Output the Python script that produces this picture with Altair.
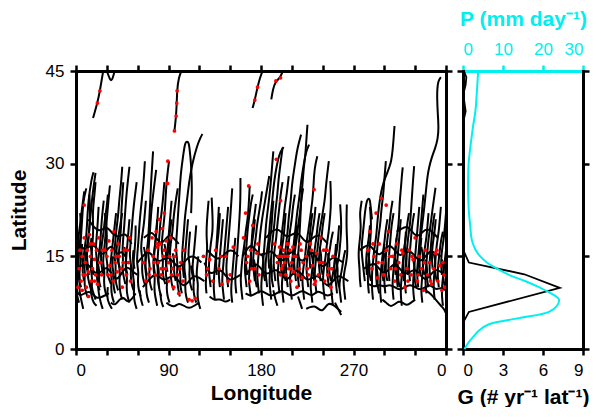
import altair as alt
import pandas as pd

# ---------------- data ----------------
# storm tracks: flat [lon, lat, lon, lat, ...] lists
TRACKS = [
    # high-latitude fragments
    [16.6, 37.4, 20.8, 39.8, 23.3, 41.8, 25.6, 44.2, 27, 45.5],
    [28.7, 45.5, 30.5, 44.8, 33, 43.6, 35.1, 43.3, 38.3, 45.5],
    [95.8, 35.3, 97.4, 37.7, 98, 39.8, 98.4, 41.8, 99.7, 43.9, 103.8, 45.5],
    [171.8, 39, 174, 40.3, 176.6, 42.4, 178.9, 43.9, 182.7, 45.5],
    [190, 40.4, 191.6, 42, 193.9, 43.3, 199, 43.9, 202.2, 45.5],
    # 0-60E
    [3, 7.5, 1, 8.5, 0.5, 10, 2, 11.5, 1, 13, 2, 15, 4, 17, 5, 20, 4, 22],
    [7, 6.5, 5, 8, 3, 9.5, 4, 11, 3, 12.5, 5, 14, 4, 16, 5, 18.5, 6, 21, 7, 24, 10, 26],
    [11, 8.5, 9, 9.5, 8, 11, 9, 12.5, 7, 14, 8, 16, 10, 18, 11, 21, 12, 24, 15, 27.5, 17, 28.6],
    [15, 9.5, 13, 10.5, 11, 12, 12, 13.5, 10, 15, 12, 17, 13, 20, 15, 23, 16, 25, 19, 28.5],
    [19, 8, 17, 9, 15, 10, 16, 11.5, 14, 13, 15, 15, 16, 17, 17, 19, 16, 22, 18, 25, 19, 27],
    [23, 9.5, 21, 10.5, 20, 12, 21, 13.5, 19, 16, 20, 18, 21, 20, 22, 23],
    [26, 6.5, 24, 7.5, 22, 9, 21, 11, 22, 12.5, 21, 14, 23, 16, 24, 18, 25, 21, 27, 24],
    [30, 8.5, 28, 9.5, 27, 11, 28, 12.5, 26, 14, 27, 15.5, 28, 17, 29, 19, 30, 21, 31, 23, 33, 26.5],
    [34, 10.5, 32, 11.5, 30, 12, 31, 13.5, 29, 15, 30, 17, 30, 19, 29, 21, 28, 22],
    [37, 7.5, 35, 8.5, 34, 10, 35, 11.5, 33, 13, 34, 14.5, 35, 16, 36, 17.5, 37, 19, 39, 22],
    [41, 9.5, 39, 10.5, 38, 12, 39, 13.5, 37, 15, 38, 17, 39, 19, 41, 21.5, 42, 24, 44, 27, 45, 29.5],
    [45, 8, 43, 9, 42, 11, 43, 12.5, 41, 14, 42, 16, 43, 18, 44, 20, 44, 22, 45, 24.5, 46, 27],
    [48, 10.5, 46, 12, 45, 13, 46, 14.5, 45, 16, 46, 18, 47, 20, 48, 22.5, 49, 25, 52, 29.5],
    [52, 7.5, 50, 8.5, 49, 10, 50, 11.5, 48, 13, 49, 15, 50, 17, 51, 19, 52, 21],
    [56, 9.5, 54, 10.5, 53, 12, 54, 13.5, 52, 15, 53, 17, 54, 19, 55, 21, 56, 23, 59, 27],
    [59, 6.5, 57, 7.5, 56, 9, 57, 10.5, 55, 12, 56, 14, 57, 16, 58, 18, 58, 20],
    [13, 12, 10, 13, 9, 15, 11, 17, 13, 19, 14, 22, 13, 25],
    [27, 12, 25, 13, 24, 15, 25, 17, 27, 19, 28, 21, 30, 23, 31, 25],
    [43, 13, 40, 14.5, 39, 16, 41, 18, 43, 20, 45, 22],
    [5, 10, 3, 11, 2, 13, 3, 15.5, 2, 18, 4, 20, 6, 23, 8, 25.5],
    [20, 7, 17, 7.5, 15, 8.5, 14, 10, 15, 11],
    [35, 6.5, 32, 7.3, 30, 8.5, 31, 10],
    [8, 11, 6, 12.5, 7, 14, 5, 15.5, 6, 17],
    [17, 12, 15, 13.5, 16, 15, 14, 16.5, 15, 18],
    [24, 10, 22, 11, 23, 12.5, 21, 14],
    [38, 9, 36, 10.5, 37, 12, 35, 13.5, 36, 15],
    [50, 12, 48, 13.5, 49, 15, 47, 16.5],
    [57, 13, 55, 14.5, 56, 16],
    [60, 12, 55, 12.5, 50, 13.5, 45, 12.5, 40, 11, 35, 12, 30, 13.5, 25, 12.5, 20, 12, 15, 13, 10, 14, 5, 13.5, 1, 13],
    [48, 15, 44, 16, 40, 15, 35, 17, 30, 16, 25, 15, 20, 16.5, 15, 17, 10, 16, 5, 16.5],
    [32, 9, 26, 8.5, 20, 8, 14, 9.5, 8, 9, 4, 8.5, 0, 9.5],
    [54, 17, 48, 19, 42, 18, 36, 18.5, 30, 20, 24, 19, 18, 19.5, 12, 21],
    [58, 9, 54, 8, 50, 7.5, 46, 8.5, 42, 8, 38, 7, 34, 7.5],
    # 60-125E
    [63, 8.5, 61, 9.5, 60, 11, 61, 12.5, 59, 14, 60, 16, 61, 18, 62, 21, 64, 24, 66, 27.5, 67, 30.4],
    [67, 10.5, 65, 11.5, 64, 13, 65, 14.5, 63, 16, 64, 18, 66, 20, 67, 22, 68, 24],
    [71, 7.5, 69, 8.5, 68, 10, 69, 11.5, 67, 13, 68, 15, 70, 17, 71, 20, 72, 23, 73, 27, 75, 32],
    [74, 9.5, 72, 10.5, 71, 12, 72, 13.5, 70, 15, 71, 17, 72, 19, 73, 22, 75, 25, 78, 29],
    [79, 7, 77, 8.5, 76, 10, 77, 11.5, 75, 13, 76, 15, 77, 17, 78, 19, 79, 21],
    [83, 8.5, 81, 9.5, 80, 11, 81, 12.5, 79, 14, 80, 16, 81, 18, 82, 20.5, 84, 23, 86, 27],
    [87, 10.5, 85, 11.5, 84, 13, 85, 14.5, 83, 16, 84, 18.5, 86, 21, 87, 24, 88, 27, 90.5, 30.4],
    [91, 7.5, 89, 8.5, 88, 10, 89, 11, 87, 12, 88, 14, 89, 16, 90, 18, 91, 20, 93, 24],
    [95, 9.5, 93, 10.5, 92, 12, 93, 13.5, 91, 15, 92, 17, 94, 19, 95, 21.5, 97, 24, 99, 26],
    [101, 8.5, 99, 10, 98, 12, 99, 14, 97, 16, 98, 18.5, 99, 21, 100, 23.5, 101, 26, 102, 28.5, 104, 31, 106, 33.4,
     108, 33.6, 110, 33.4, 111, 31.5, 112, 30, 113, 26, 112, 22],
    [105, 11.5, 104, 13, 103, 15, 104, 17, 105, 19, 106, 21.5, 108, 24, 110, 27, 113, 30, 118, 33, 121, 34.2, 123, 34.8],
    [109, 7.5, 107, 8.5, 106, 10, 107, 11.5, 105, 13, 106, 15, 107, 17, 108, 19, 109, 21],
    [113, 9.5, 111, 10.5, 110, 12, 111, 13.5, 109, 15, 110, 17, 111, 19],
    [117, 7.5, 115, 8.5, 114, 10, 115, 11.5, 113, 13, 114, 14.5, 115, 16, 116, 18, 117, 20],
    [121, 6.5, 119, 7.5, 118, 9, 119, 10.5, 117, 12, 118, 13.5, 119, 15],
    [77, 12, 75, 14, 76, 16, 78, 18, 79, 20.5, 80, 23],
    [93, 13, 91, 14.5, 90, 16.5, 91, 18.5, 93, 21],
    [65, 7, 63, 8, 62, 9.5],
    [85, 6.8, 83, 7.5, 82, 9],
    [69, 12, 67, 13.5, 68, 15, 66, 16.5],
    [81, 10, 79, 11.5, 80, 13, 78, 14.5],
    [89, 12.5, 87, 14, 88, 15.5, 86, 17],
    [97, 11, 95, 12.5, 96, 14, 94, 15.5],
    [103, 9, 101, 10.5, 102, 12, 100, 13.5],
    [115, 11, 113, 12, 112, 13.5],
    [125, 11, 120, 11.5, 115, 12, 110, 11, 105, 10, 100, 11, 95, 12, 90, 11.5, 85, 11, 80, 12, 75, 12, 70, 11, 65, 10],
    [122, 14, 116, 15, 110, 15, 105, 14, 100, 13, 95, 14, 90, 15, 85, 14.5, 80, 14, 75, 15, 70, 16, 65, 15, 60, 14],
    [120, 7.5, 115, 7, 110, 6.5, 105, 7, 100, 7.5, 96, 6.8, 92, 7, 88, 7.5],
    [100, 17, 95, 18, 90, 18.5, 86, 17.5, 82, 17, 78, 18, 74, 19, 70, 18.5, 66, 18],
    # 125-160E
    [127, 9, 126, 10.5, 127, 12, 126, 14, 128, 16, 127, 18, 127, 20, 129, 24],
    [131, 10, 130, 11.5, 129, 13, 130, 15, 131, 17, 133, 19, 133, 21, 132, 24.5],
    [135, 8, 134, 9.5, 134, 11, 135, 13, 136, 15, 137, 17.5, 138, 20, 139, 23],
    [140, 10, 139, 11.5, 139, 13, 140, 15, 141, 17, 142, 19, 143, 21],
    [144, 8, 143, 9.5, 142, 11, 143, 13, 144, 15, 145, 17, 146, 19, 147, 21, 148, 23],
    [148, 10, 147, 11.5, 146, 13, 147, 15, 148, 17, 149, 19, 150, 21, 151, 23.5, 152, 26],
    [152, 7.5, 151, 9, 151, 10, 152, 12, 153, 14, 154, 16, 155, 18],
    [156, 9, 155, 10.5, 155, 12, 156, 14, 157, 16, 158, 18.5, 159, 21, 160, 24, 160, 27.7],
    [137, 12, 136, 14, 137, 16.5, 139, 19, 140, 22],
    [160, 12, 155, 11.5, 150, 11, 145, 12, 140, 13, 135, 12.5, 130, 12, 125, 14],
    [158, 15, 153, 16, 148, 16, 143, 15, 138, 14.5, 133, 15, 128, 16],
    [150, 8, 145, 7.5, 140, 8.2, 135, 7.8, 130, 8.5],
    # 160-265E
    [162, 8, 161, 9.5, 160, 11, 161, 13, 162, 15, 164, 17, 165, 19, 167, 21, 168, 23, 169, 26.4],
    [166, 10, 165, 11.5, 164, 13, 165, 15, 166, 17, 167, 19.5, 169, 22, 170, 23.5, 172, 25],
    [170, 8.5, 169, 10, 168, 11, 169, 13, 170, 15, 171, 17.5, 172, 20, 174, 22, 175, 23.5],
    [174, 11, 173, 12.5, 172, 14, 173, 16, 175, 18, 176, 20, 178, 22, 180, 24, 181, 25.5],
    [178, 9, 177, 10.5, 176, 12, 177, 14, 178, 16, 179, 18.5, 181, 21, 183, 23, 185, 25, 188, 28],
    [182, 7, 181, 8.5, 180, 10, 181, 12, 182, 14, 183, 16, 184, 18, 185, 20.5, 187, 23, 189, 26, 190, 28, 192, 32],
    [186, 10, 185, 11.5, 184, 13, 185, 15, 187, 17, 188, 19, 189, 21, 191, 24, 192, 26, 194, 28.5, 196.5, 30.7,
     199, 32, 202, 32.7],
    [190, 8, 189, 9.5, 188, 11, 189, 13, 190, 15, 191, 17.5, 193, 20, 194, 22.5, 196, 25, 197, 27.5, 199, 30, 201, 32.6],
    [194, 11, 193, 12.5, 192, 14, 193, 16, 195, 18, 196, 20.5, 198, 23, 199, 25, 201, 27],
    [198, 9, 197, 10.5, 196, 12, 197, 14, 199, 16, 200, 18.5, 202, 21, 203, 23, 205, 25, 207, 28],
    [202, 7.5, 201, 9, 200, 10, 201, 12, 203, 14, 204, 16.5, 206, 19, 207, 21.5, 209, 24, 210, 26.5, 212, 28.8,
     214, 31, 215.6, 32.6, 219, 34.7],
    [206, 10, 205, 11.5, 204, 13, 205, 15, 207, 17, 208, 19, 210, 21, 211, 23, 213, 25],
    [210, 8, 209, 9.5, 208, 11, 209, 13, 211, 15, 212, 17.5, 214, 20, 215, 22, 217, 24, 219, 27.2, 222, 30.4,
     224, 32, 226.8, 33.1],
    [214, 11, 213, 12.5, 212, 14, 213, 16, 215, 18, 216, 20, 218, 22, 219, 24, 221, 26],
    [217, 10, 216, 11.5, 215, 13, 216, 15, 217, 17, 218, 20, 219, 24, 220, 26, 221, 28, 222, 30, 223, 31, 224, 33.5,
     225.2, 36.3],
    [222, 8, 221, 9.5, 220, 11, 221, 13, 223, 15, 224, 17, 226, 19, 228, 21.5, 230, 24, 231, 26, 231.6, 28.3,
     233, 30, 234.8, 31.2],
    [226, 10, 225, 11.5, 224, 13, 225, 15, 227, 17, 228, 19.5, 230, 22],
    [230, 7.5, 229, 9, 228, 10, 229, 12, 231, 14, 232, 16, 234, 18, 235, 20, 237, 22],
    [234, 9, 233, 10.5, 232, 12, 233, 14, 235, 16, 236, 18, 238, 20, 240, 22, 242, 24, 243, 26, 244, 27.7, 246, 30.4],
    [238, 11, 237, 12.5, 236, 14, 237, 16, 239, 18, 240, 20, 242, 22],
    [242, 8, 241, 9.5, 240, 11, 241, 13, 243, 15, 244, 17, 246, 19, 247, 21, 248, 23, 248, 25, 247.5, 27.2],
    [246, 10, 245, 11.5, 244, 13, 245, 14.5, 247, 16, 248, 17.5, 250, 19],
    [250, 7, 249, 8.5, 248, 10, 249, 11.5, 251, 13, 252, 14.5, 254, 16, 255, 18, 256, 20],
    [254, 9, 253, 10.5, 252, 12, 254, 13.5, 256, 15, 257, 17, 258, 19, 258, 21, 257, 23.4],
    [258, 7.5, 257, 9, 256, 10, 257, 11.5, 259, 13, 260, 14.5, 262, 16],
    [262, 8, 261, 9.5, 260, 11, 261, 12.5, 263, 14, 264, 15.5, 264, 17, 263, 20, 263.5, 23.4],
    [171, 13, 170, 15, 171, 17, 173, 19, 174, 21],
    [188, 13, 187, 15, 188, 17, 190, 19, 191, 22, 192, 24],
    [200, 12, 199, 14, 200, 16, 202, 18, 203, 20, 204, 22],
    [212, 12, 211, 14, 212, 16, 214, 18, 215, 20],
    [228, 13, 227, 15, 228, 17, 230, 19, 232, 21, 233, 23],
    [252, 11, 251, 13, 252, 15, 253, 17],
    [196, 7, 194, 8, 192, 9.5],
    [220, 6.5, 218, 7.5, 216, 8.5],
    [258, 5.5, 255, 6.5, 252, 7.5],
    [167, 12, 165, 13.5, 166, 15, 164, 16.5],
    [176, 10, 174, 11.5, 175, 13, 173, 14.5],
    [184, 11, 182, 12.5, 183, 14, 181, 15.5],
    [192, 10, 190, 11.5, 191, 13, 189, 14.5],
    [204, 11, 202, 12.5, 203, 14, 201, 15.5],
    [208, 13, 206, 14.5, 207, 16, 205, 17.5],
    [219, 11, 217, 12.5, 218, 14, 216, 15.5],
    [232, 11, 230, 12.5, 231, 14, 229, 15.5],
    [240, 12, 238, 13.5, 239, 15, 237, 16.5],
    [248, 11, 246, 12.5, 247, 14, 245, 15.5],
    [256, 10, 254, 11.5, 255, 13, 253, 14.5],
    [265, 11, 260, 11.5, 255, 12, 250, 11, 245, 10, 240, 11, 235, 12, 230, 11.5, 225, 11, 220, 12, 215, 13, 210, 12,
     205, 11, 200, 12, 195, 13, 190, 12.5, 185, 12, 180, 13, 175, 14, 170, 13, 165, 12],
    [260, 14, 255, 14.5, 250, 15, 245, 14, 240, 13, 235, 14.5, 230, 16, 225, 15, 220, 14, 215, 15, 210, 16, 205, 15,
     200, 14, 195, 15, 190, 16, 185, 15.5, 180, 15, 175, 16, 170, 17, 166, 16, 162, 15],
    [258, 6, 255, 6.5, 250, 7.2, 245, 7.5, 240, 6, 236, 6.5, 232, 7, 228, 6.8, 224, 6.5],
    [245, 17, 240, 18, 235, 18.5, 230, 18, 225, 17, 220, 18, 215, 19, 210, 18.5, 205, 18, 200, 19, 195, 19.5,
     190, 19, 185, 18],
    [250, 9, 245, 8.5, 240, 9, 235, 9.5, 230, 8.5, 225, 9, 220, 9.5, 215, 9, 210, 8.5, 205, 9, 200, 9.5, 195, 9,
     190, 8.5, 185, 9, 180, 9.5, 175, 9, 170, 8.5, 165, 9],
    # 275-360E
    [277, 10, 276, 11.5, 276, 13, 275, 14.5, 275, 16, 276, 17.5, 277, 19, 277, 20.5, 276, 22, 278, 24],
    [281, 11, 280, 12.5, 279, 14, 278, 15.5, 278, 17, 279, 18.5, 280, 20, 281, 22, 283, 24.2, 285, 24.4, 286, 24.2,
     287, 22.5, 288, 21],
    [285, 9, 284, 10.5, 284, 12, 284, 13.5, 285, 15, 286, 17, 287, 19, 287, 21, 286, 23],
    [289, 8, 288, 9.5, 288, 11, 288, 12.5, 289, 14, 290, 16, 292, 18, 293, 20, 294, 22, 295.5, 24, 297, 25.5,
     298.7, 26.7, 301, 27.8, 303.5, 28.8, 305, 29.5, 306.7, 30.4, 308, 32, 309, 34, 309.9, 36.1],
    [293, 10, 292, 11.5, 292, 13, 292, 14.5, 293, 16, 294, 18, 296, 20, 297, 22.5, 299, 25, 300, 27.5, 301.5, 30.4],
    [297, 7.5, 296, 9, 296, 10, 296, 11.5, 297, 13, 298, 15, 300, 17, 301, 19, 303, 21],
    [301, 9, 300, 10.5, 300, 12, 301, 14, 302, 16, 303, 18, 305, 20, 306, 22, 308, 24],
    [305, 11, 304, 12.5, 304, 14, 305, 16, 306, 18, 307, 20, 309, 22],
    [309, 8, 308, 9.5, 308, 11, 309, 13, 310, 15, 311, 17, 313, 19, 314, 20.5, 314.6, 22.3, 315, 24, 316.2, 26.1,
     317, 28, 317.9, 29.4],
    [313, 10, 312, 11.5, 312, 13, 313, 15, 314, 17, 315, 19, 316, 21],
    [317, 7, 316, 8.5, 316, 10, 317, 12, 318, 14, 319, 16, 321, 18, 322, 20, 324, 22],
    [321, 9, 320, 10.5, 320, 12, 321, 14, 322, 16, 323, 18, 325, 20, 326, 22.5, 327, 25, 328, 27.5, 329, 29.6],
    [325, 11, 324, 12.5, 324, 14, 325, 16, 326, 18, 327, 20, 329, 22],
    [329, 8, 328, 9.5, 328, 11, 329, 13, 330, 15, 331, 17, 332, 19, 333, 21, 334, 23],
    [333, 10, 332, 11.5, 332, 13, 333, 15, 334, 17, 335, 19, 336, 21, 337, 23, 338, 25],
    [337, 7.5, 336, 9, 336, 10, 337, 12, 338, 14, 339, 16, 341, 18, 342, 20, 343, 22],
    [341, 9, 340, 10.5, 340, 12, 341, 14, 342, 16, 343, 18, 345, 20, 346.6, 22.3, 348, 24, 349.8, 26.1],
    [345, 11, 344, 12.5, 344, 14, 345, 16, 346, 18, 347, 20, 349, 22],
    [349, 8, 348, 9.5, 348, 11, 349, 13, 350, 15, 351, 17, 353, 19, 354, 21, 355, 23],
    [353, 10, 352, 11.5, 352, 13, 353, 14.5, 354, 16, 355, 17.5, 357, 19],
    [357, 7, 356, 8.5, 356, 10, 357, 11.5, 358, 13, 359, 14.5, 360, 16],
    [332, 12, 333, 14, 334, 16, 336, 19, 338.5, 22.3, 339.5, 24, 340.8, 26.1, 342, 28, 343.4, 29.3, 346, 31,
     349.7, 32.6, 352, 34, 352.9, 35.8, 352, 38, 351.3, 40.7, 351.5, 42, 352.3, 43.4, 355, 44],
    [340, 9.5, 345, 9, 350, 8, 355, 7, 358, 6.5, 360, 5.8],
    [283, 12, 282, 14, 283, 16, 285, 18, 286, 20],
    [299, 11, 298, 13, 299, 15, 300, 17],
    [311, 12, 310, 14, 311, 16, 312, 18],
    [319, 11, 318, 13, 319, 15, 320, 17, 321, 19],
    [335, 12, 334, 14, 335, 16, 336, 18],
    [347, 13, 346, 15, 347, 17, 349, 19, 350, 21],
    [356, 12, 355, 14, 356, 16, 358, 18, 359, 20, 360, 22],
    [287, 11, 285, 12.5, 286, 14, 284, 15.5],
    [295, 9, 293, 10.5, 294, 12, 292, 13.5],
    [303, 11, 301, 12.5, 302, 14, 300, 15.5],
    [315, 10, 313, 11.5, 314, 13, 312, 14.5],
    [323, 12, 321, 13.5, 322, 15, 320, 16.5],
    [331, 10, 329, 11.5, 330, 13, 328, 14.5],
    [339, 12, 337, 13.5, 338, 15, 336, 16.5],
    [343, 10, 341, 11.5, 342, 13, 340, 14.5],
    [351, 11, 349, 12.5, 350, 14, 348, 15.5],
    [359, 10, 357, 11.5, 358, 13, 356, 14.5],
    [360, 12, 355, 12.5, 350, 13, 345, 12, 340, 11, 335, 12, 330, 13, 325, 12.5, 320, 12, 315, 13, 310, 14,
     305, 13, 300, 12, 295, 13, 290, 14, 285, 13.5, 280, 13],
    [355, 15, 350, 15.5, 345, 16, 340, 15, 335, 14, 330, 15, 325, 16, 320, 15.5, 315, 15, 310, 16, 305, 17,
     300, 16, 295, 15, 290, 16, 285, 17, 280, 16.5, 276, 16],
    [352, 18, 347, 19, 342, 19.5, 337, 19, 332, 18, 327, 19, 322, 20, 317, 19.5, 312, 19],
    [330, 8, 326, 7.5, 322, 7, 318, 7.5, 314, 7.8, 310, 7.2, 306, 6.8, 302, 7.5, 298, 8],
    [360, 9.5, 355, 10, 350, 9.5, 345, 10.5, 340, 10, 335, 9.5, 330, 10, 325, 10.5, 320, 10, 315, 9.5, 310, 10,
     305, 10.5, 300, 10, 295, 10.5, 290, 10, 285, 10.5],
]

RED_LON = [3, 5, 4, 7, 8, 9, 10, 11, 12, 13, 14, 15, 16, 17, 18, 19, 20, 21, 22, 23, 25, 26, 8, 6, 12,
           30, 31, 32, 33, 35, 36, 37, 38, 40, 41, 42, 44, 45, 47, 49, 51, 53, 52,
           66, 68, 70, 72, 74, 75, 77, 78, 79, 80, 81, 82, 83, 84, 85, 86, 87, 88, 89, 89.4, 90, 91, 92, 94, 95, 97, 99,
           100, 102, 104,
           110, 113, 116, 124, 127, 130, 133, 136, 139, 142, 146, 150, 153,
           163, 165, 166, 168, 169, 170, 172, 174, 176, 178,
           195, 199, 193, 196, 198, 199, 200, 201, 202, 203, 204, 205, 206, 207, 208, 209, 210, 211, 212, 214, 215, 217,
           218, 220, 221,
           224, 226, 228, 230, 231.6, 232, 234, 236, 238, 240, 242, 244, 246, 248, 250,
           284, 286, 288, 290, 292, 293, 295, 297, 298, 300, 301.8, 302, 304, 306, 308, 310, 312, 314, 316, 318, 320, 322,
           324,
           326, 328, 330, 332, 334, 336, 338, 340, 342, 344, 346, 348, 350, 352, 354, 356, 358, 359,
           20.8, 23.3, 95.8, 97.4, 98, 98.4, 174, 176.6, 194.5, 199,
           2, 6, 9, 14, 18, 24, 28, 34, 39, 46, 50,
           71, 76, 79, 83, 86, 90, 93, 96, 101, 105,
           128, 141, 148,
           167, 171, 177,
           197, 200, 203, 206, 209, 212, 216, 219,
           225, 229, 233, 237, 241, 245, 249,
           289, 294, 299, 305, 311, 317, 323,
           327, 333, 339, 345, 351, 357]
RED_LAT = [13, 11, 16, 12, 18, 14, 10, 16, 12.5, 18.5, 15, 11, 13, 17, 14.5, 12, 16, 10.5, 18, 14, 12, 16, 23.3, 9.5,
           8.5,
           15, 12, 17.5, 13.5, 16, 11, 19, 14, 12.5, 17, 15, 13, 10, 16, 12, 14, 11, 18,
           14, 11, 16, 13, 18, 15, 12, 19, 16.5, 14, 21, 17, 12, 19.5, 15, 22, 13, 17.5, 26.8, 30.4, 11, 15, 18, 13, 10,
           16, 12, 9, 14, 11,
           8, 7.8, 8.2, 15, 12, 14.5, 11, 16, 13, 10.5, 15, 12, 16.5,
           18, 22, 14, 26.4, 11, 16, 20, 13, 15.5, 12,
           30.7, 24, 17, 14, 16.5, 12, 15, 13.5, 16, 14, 12, 17, 15, 13, 16, 11, 14, 16.5, 12.5, 15, 10, 13, 17, 11.5, 14,
           15, 12, 17, 13.5, 25.8, 10.5, 15.5, 12, 18, 14, 11, 16, 13, 10, 15,
           16, 19, 13, 15, 22, 11.5, 17, 24.4, 14, 12, 23.3, 16, 19, 13, 15, 11, 17, 14, 12, 15.5, 10, 13, 16,
           12, 14.5, 18, 11, 15, 13, 9.5, 16, 12, 14, 10.5, 13, 15.5, 11, 13.5, 9.5, 12, 10,
           39.8, 41.8, 35.3, 37.7, 39.8, 41.8, 40.3, 42.4, 43.4, 43.9,
           10, 15, 12, 17, 11, 14, 16, 12, 15, 14, 16,
           12, 14, 17, 13, 16, 14, 12, 15, 13, 16,
           13, 15, 11,
           15, 13, 17,
           15, 13, 15, 17, 13, 15, 12, 16,
           13, 16, 11, 14, 16, 12, 13,
           17, 14, 12, 15, 13, 16, 11,
           15, 12, 14, 11, 16, 14]

# genesis frequency G (# yr-1 lat-1) by latitude
G_LAT = [0, 3.5, 4.5, 6.0, 9.9, 12.1, 14.0, 16.1, 35.8, 37, 38.5, 40, 41.2, 42.8, 44, 45]
G_VAL = [0, 0, 0.07, 0.44, 7.26, 4.6, 0.44, 0, 0, 0.05, 0.2, 0.1, 0.02, 0.2, 0.25, 0.07]

# precipitation P (mm day-1) by latitude
P_LAT = [0, 1, 2, 3, 4, 5, 6, 7, 8, 9, 10, 11, 12, 13, 14, 15, 16, 17, 18, 20, 22, 25, 28, 30, 33, 36, 38.5, 41, 45]
P_VAL = [0.4, 1.3, 2.6, 4.0, 6.5, 14, 21.5, 23.5, 24, 22, 19, 15.5, 11.5, 8.5, 6, 4.3, 3.2, 2.5, 2.1, 1.8, 1.5, 1.3,
         1.3, 1.4, 1.9, 2.5, 3.1, 3.4, 3.8]

LON_TICKS = list(range(0, 361, 30))
LAT_TICKS = [0, 15, 30, 45]
G_TICKS = [0, 3, 6, 9]
P_TICKS = [0, 10, 20, 30]

CYAN = "#00F0F0"
FONT = "Liberation Sans"

# ---------------- tables ----------------
rows = []
for i, t in enumerate(TRACKS):
    for j in range(0, len(t), 2):
        rows.append({"track": i, "k": j // 2, "lon": t[j], "lat": t[j + 1]})
tracks_df = pd.DataFrame(rows)
red_df = pd.DataFrame({"lon": RED_LON, "lat": RED_LAT})
g_df = pd.DataFrame({"lat": G_LAT, "G": G_VAL})
p_df = pd.DataFrame({"lat": P_LAT, "P": P_VAL})

base_axis = dict(labelFont=FONT, labelFontSize=17, titleFont=FONT, titleFontSize=21,
                 titleFontWeight="bold", tickSize=6, tickWidth=2.5, domainWidth=3,
                 domainCap="square", grid=False, tickColor="black", domainColor="black",
                 labelColor="black", titleColor="black")

xs = alt.Scale(domain=[0, 360], nice=False, zero=False)
ys = alt.Scale(domain=[0, 45], nice=False, zero=False)

lon_label = "datum.value % 90 == 0 ? (datum.value == 360 ? '0' : datum.label) : ''"

tracks = alt.Chart(tracks_df).mark_line(color="black", strokeWidth=2, clip=True,
                                        interpolate="basis").encode(
    x=alt.X("lon:Q", scale=xs,
            axis=alt.Axis(orient="bottom", values=LON_TICKS, labelExpr=lon_label,
                          title="Longitude", titlePadding=4, labelPadding=7, **base_axis)),
    y=alt.Y("lat:Q", scale=ys,
            axis=alt.Axis(orient="left", values=LAT_TICKS, title="Latitude",
                          titlePadding=16, labelPadding=6, **base_axis)),
    detail="track:N",
    order="k:Q",
)
reds = alt.Chart(red_df).mark_circle(color="red", size=14, opacity=1, clip=True).encode(
    x=alt.X("lon:Q", scale=xs,
            axis=alt.Axis(orient="top", values=LON_TICKS, labels=False, title=None, **base_axis)),
    y=alt.Y("lat:Q", scale=ys,
            axis=alt.Axis(orient="right", values=LAT_TICKS, labels=False, title=None, **base_axis)),
)
left = alt.layer(tracks, reds).resolve_axis(x="independent", y="independent").properties(
    width=370, height=278)

cyan_axis = dict(base_axis)
cyan_axis.update(tickColor=CYAN, domainColor=CYAN, labelColor=CYAN, titleColor=CYAN)

g_line = alt.Chart(g_df).mark_line(color="black", strokeWidth=1.8).encode(
    x=alt.X("G:Q", scale=alt.Scale(domain=[0, 9], nice=False),
            axis=alt.Axis(orient="bottom", values=G_TICKS, title="G (# yr⁻¹ lat⁻¹)",
                          titlePadding=8, labelPadding=7, **base_axis)),
    y=alt.Y("lat:Q", scale=ys,
            axis=alt.Axis(orient="left", values=LAT_TICKS, labels=False, title=None, **base_axis)),
    order="lat:Q",
)
p_line = alt.Chart(p_df).mark_line(color=CYAN, strokeWidth=2, interpolate="catmull-rom").encode(
    x=alt.X("P:Q", scale=alt.Scale(domain=[0, 30], nice=False),
            axis=alt.Axis(orient="top", values=P_TICKS, title="P (mm day⁻¹)",
                          titlePadding=11, labelPadding=7, **cyan_axis)),
    y=alt.Y("lat:Q", scale=ys,
            axis=alt.Axis(orient="right", values=LAT_TICKS, labels=False, title=None, **base_axis)),
    order="lat:Q",
)
right = alt.layer(g_line, p_line).resolve_scale(x="independent").resolve_axis(
    x="independent", y="independent").properties(width=120, height=278)

chart = alt.hconcat(left, right, spacing=17, bounds="flush").properties(
    padding={"left": 0, "top": 0, "right": 0, "bottom": 0}
).configure_view(strokeWidth=0)

chart.save("out.html", embed_options={"renderer": "svg", "actions": False})
